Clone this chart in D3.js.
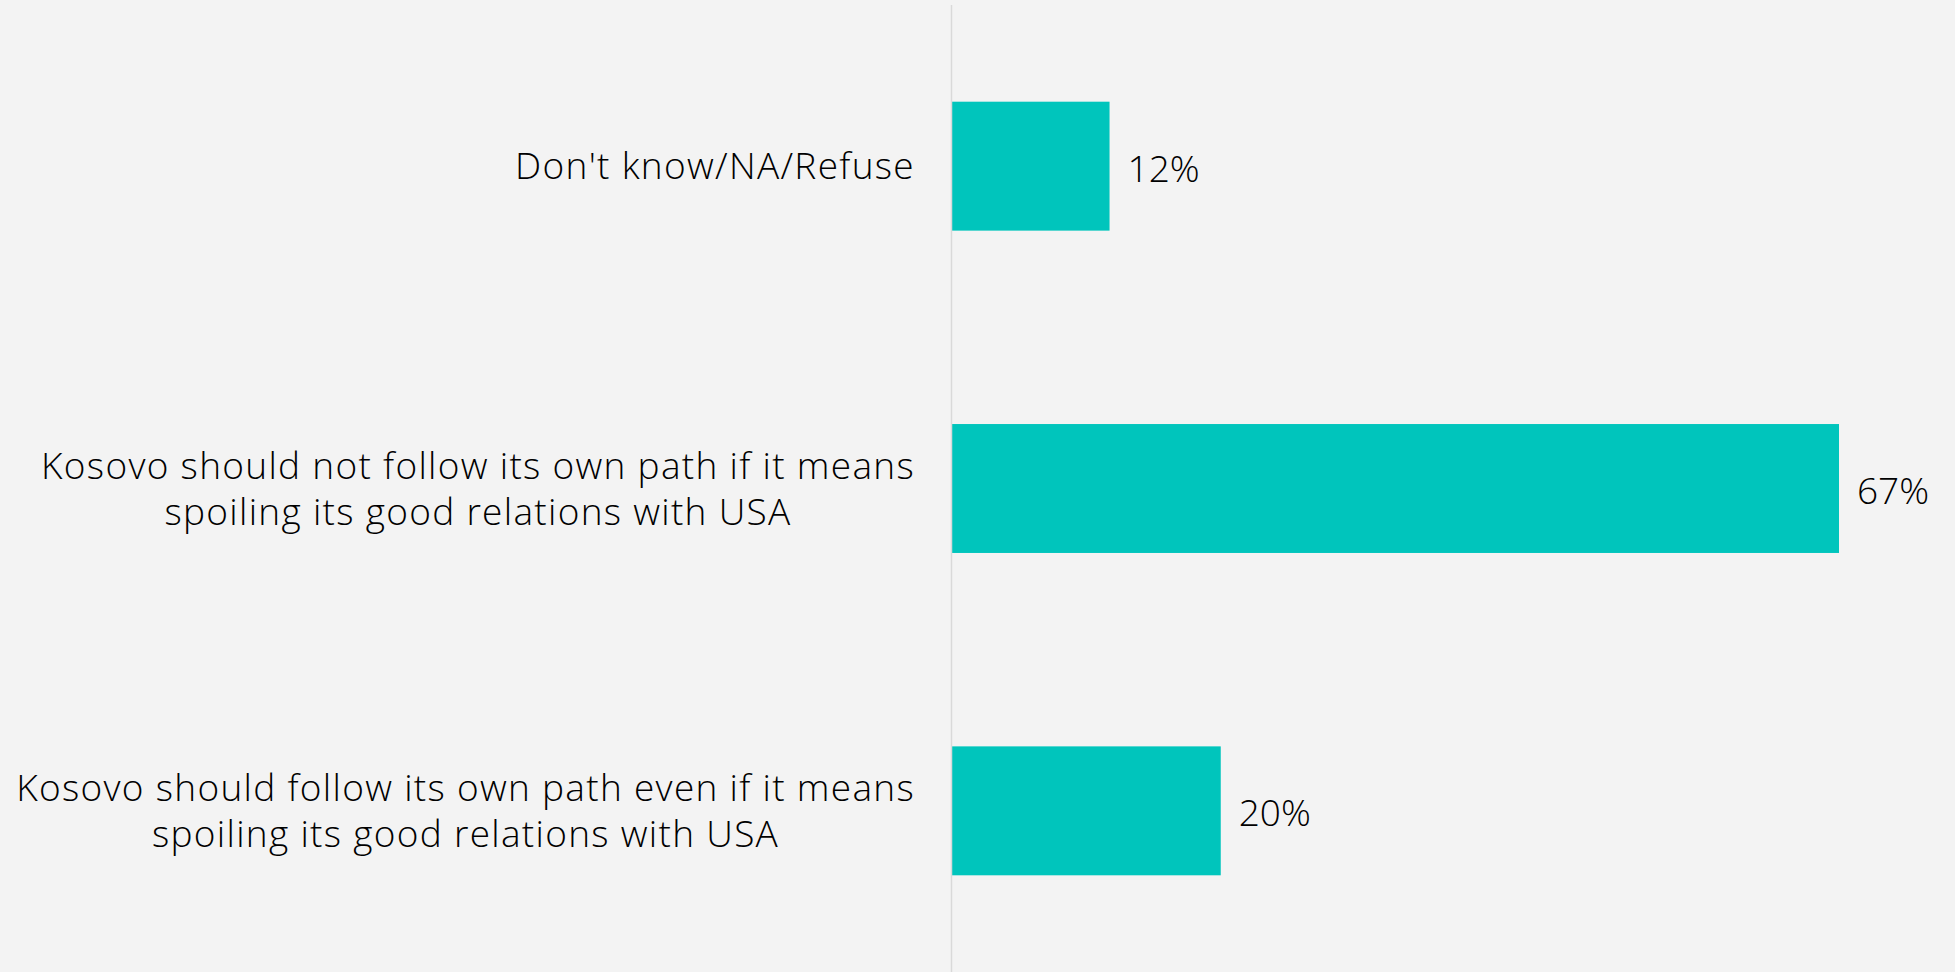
<!DOCTYPE html>
<html>
<head>
<meta charset="utf-8">
<script src="https://cdn.jsdelivr.net/npm/d3@7"></script>
<style>
  html, body { margin: 0; padding: 0; background: #f3f3f3; }
  svg { display: block; }
  text { font-family: "Open Sans", "DejaVu Sans", sans-serif; font-weight: 300; fill: #000; }
</style>
</head>
<body>
<svg id="chart" width="1955" height="972"></svg>
<script>
// Data
const categories = [
  ["Don't know/NA/Refuse"],
  ["Kosovo should not follow its own path if it means", "spoiling its good relations with USA"],
  ["Kosovo should follow its own path even if it means", "spoiling its good relations with USA"]
];
const categoryKeys = ["dk", "not_follow", "follow"];
const values = [11.9, 67.0, 20.3];
const valueLabels = ["12%", "67%", "20%"];

const W = 1955, H = 972;
const svg = d3.select("#chart");
svg.append("rect").attr("width", W).attr("height", H).attr("fill", "#f3f3f3");

const axisX = 952;
const x = d3.scaleLinear().domain([0, 70]).range([axisX, axisX + 887 * 70 / 67]);
const y = d3.scaleBand().domain(categoryKeys).range([5, 972]).paddingInner(0.6).paddingOuter(0.3);

// bars
svg.append("g").selectAll("rect")
  .data(values)
  .join("rect")
  .attr("x", x(0))
  .attr("y", (d, i) => y(categoryKeys[i]))
  .attr("width", d => x(d) - x(0))
  .attr("height", y.bandwidth())
  .attr("fill", "#00C5BC");

// axis line
svg.append("line")
  .attr("x1", axisX - 0.5).attr("x2", axisX - 0.5)
  .attr("y1", 5).attr("y2", H)
  .attr("stroke", "#d9d9d9").attr("stroke-width", 1.5);

// category labels
const fontSize = 37, lineH = 46, rightEdge = 915;
categories.forEach((lines, i) => {
  const cy = y(categoryKeys[i]) + y.bandwidth() / 2;
  const t = svg.append("text")
    .attr("font-size", fontSize)
    .attr("letter-spacing", 1.3)
    .attr("text-anchor", "middle");
  const n = lines.length;
  lines.forEach((ln, j) => {
    t.append("tspan")
      .attr("y", cy + 13 + (j - (n - 1) / 2) * lineH)
      .text(ln);
  });
  let maxW = 0;
  t.selectAll("tspan").each(function() { maxW = Math.max(maxW, this.getComputedTextLength()); });
  t.selectAll("tspan").attr("x", rightEdge - maxW / 2);
});

// value labels
svg.append("g").selectAll("text")
  .data(values)
  .join("text")
  .attr("x", d => x(d) + 18)
  .attr("y", (d, i) => y(categoryKeys[i]) + y.bandwidth() / 2 + 15.5)
  .attr("font-size", fontSize)
  .text((d, i) => valueLabels[i]);
</script>
</body>
</html>
